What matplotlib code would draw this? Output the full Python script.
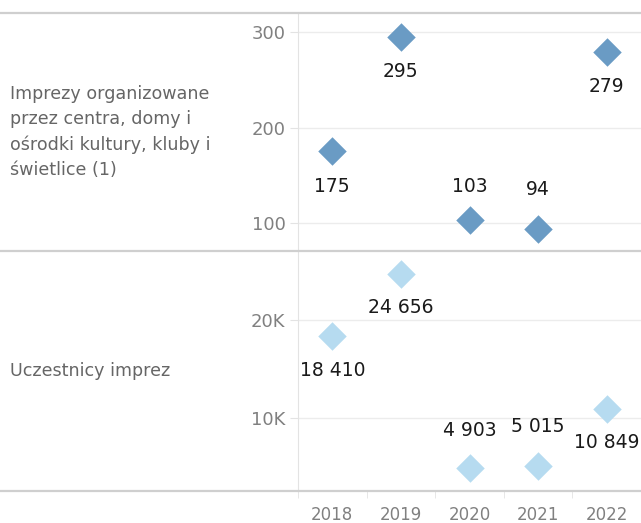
import matplotlib.pyplot as plt
from matplotlib.lines import Line2D
from matplotlib.ticker import FuncFormatter

years = ["2018", "2019", "2020", "2021", "2022"]
events = [175, 295, 103, 94, 279]
participants = [18410, 24656, 4903, 5015, 10849]

row_labels = ["Imprezy organizowane\nprzez centra, domy i\nośrodki kultury, kluby i\nświetlice (1)",
              "Uczestnicy imprez"]

# label offsets in points (positive = above marker)
events_off = [-25, -25, 24, 28, -25]
participants_off = [-25, -24, 27, 29, -24]

W, H = 641, 523
fig = plt.figure(figsize=(W / 100, H / 100), dpi=100)

x0 = 298
top, mid, bot = 13, 251, 491

ax1 = fig.add_axes([x0 / W, (H - mid) / H, (W - x0) / W, (mid - top) / H])
ax2 = fig.add_axes([x0 / W, (H - bot) / H, (W - x0) / W, (bot - mid) / H])

tick_col = "#808080"
grid_col = "#ececec"
xs = list(range(len(years)))


def fmt_num(v):
    return f"{v:,}".replace(",", " ")


for ax, vals, col, offs in [(ax1, events, "#6a9bc4", events_off),
                            (ax2, participants, "#b6dbf0", participants_off)]:
    ax.scatter(xs, vals, marker="D", s=14.5 ** 2, color=col, zorder=3, linewidths=0)
    for x, v, o in zip(xs, vals, offs):
        ax.annotate(fmt_num(v), (x, v), xytext=(0, o), textcoords="offset points",
                    ha="center", va="center", fontsize=13.5, color="#1a1a1a")
    ax.set_xlim(-0.5, 4.5)
    for s in ax.spines.values():
        s.set_visible(False)
    ax.spines["left"].set_visible(True)
    ax.spines["left"].set_color("#e3e3e3")
    ax.grid(axis="y", color=grid_col, lw=1)
    ax.set_axisbelow(True)
    ax.tick_params(axis="y", length=6, color="#e3e3e3", labelcolor=tick_col,
                   labelsize=13, pad=3)

ax1.set_ylim(70.7, 320)
ax1.set_yticks([100, 200, 300])
ax1.set_xticks([])

ax2.set_ylim(2500, 27060)
ax2.set_yticks([10000, 20000])
ax2.yaxis.set_major_formatter(FuncFormatter(lambda v, p: f"{int(v / 1000)}K"))
ax2.set_xticks(xs)
ax2.set_xticklabels(years)
ax2.set_xticks([-0.5, 0.5, 1.5, 2.5, 3.5], minor=True)
ax2.tick_params(axis="x", which="major", length=0, pad=11, labelcolor=tick_col,
                labelsize=12)
ax2.tick_params(axis="x", which="minor", length=5, color="#e3e3e3")

# row borders
for y in [top, mid, bot]:
    fig.add_artist(Line2D([0, 1], [(H - y) / H] * 2, transform=fig.transFigure,
                          color="#cfcfcf", lw=1.6))

fig.text(10 / W, (H - (top + mid) / 2) / H, row_labels[0], ha="left", va="center",
         fontsize=12.6, color="#666666", linespacing=1.5)
fig.text(10 / W, (H - (mid + bot) / 2) / H, row_labels[1], ha="left", va="center",
         fontsize=12.6, color="#666666")

fig.savefig("out.png", dpi=100)
